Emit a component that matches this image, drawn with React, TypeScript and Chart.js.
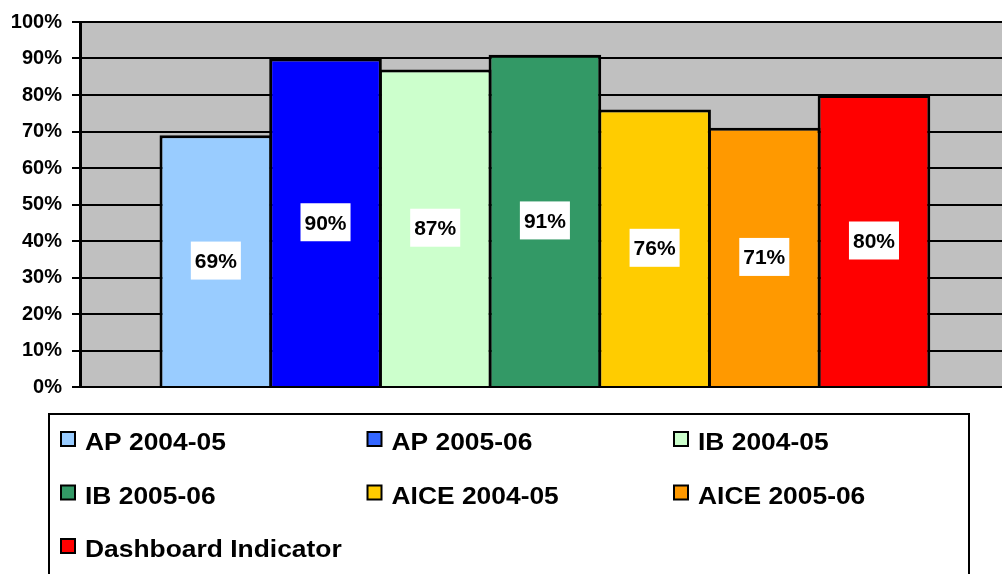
import React, { useEffect, useRef } from 'react';
import { Chart, registerables } from 'chart.js';

Chart.register(...registerables);

const categories = [''];
const seriesNames = [
  'AP 2004-05',
  'AP 2005-06',
  'IB 2004-05',
  'IB 2005-06',
  'AICE 2004-05',
  'AICE 2005-06',
  'Dashboard Indicator',
];
const seriesValues = [69, 90, 87, 91, 76, 71, 80];
const barColors = ['#99CCFF', '#0000FF', '#CCFFCC', '#339966', '#FFCC00', '#FF9900', '#FF0000'];
const legendColors = ['#99CCFF', '#3366FF', '#CCFFCC', '#339966', '#FFCC00', '#FF9900', '#FF0000'];
const yTickValues = [0, 10, 20, 30, 40, 50, 60, 70, 80, 90, 100];

const FONT = '"Liberation Sans", Arial, Helvetica, sans-serif';
const CANVAS_W = 1020;
const CANVAS_H = 600;

const plotBackground = {
  id: 'plotBackground',
  beforeDraw(chart: any) {
    const { ctx, chartArea } = chart;
    ctx.save();
    ctx.fillStyle = '#C0C0C0';
    ctx.fillRect(chartArea.left, chartArea.top, chartArea.right - chartArea.left, chartArea.bottom - chartArea.top);
    ctx.restore();
  },
};

const valueLabels = {
  id: 'valueLabels',
  afterDatasetsDraw(chart: any) {
    const { ctx } = chart;
    ctx.save();
    ctx.font = `bold 21px ${FONT}`;
    chart.data.datasets.forEach((ds: any, i: number) => {
      const meta = chart.getDatasetMeta(i);
      meta.data.forEach((el: any, j: number) => {
        const v = ds.data[j];
        const text = `${v}%`;
        const cx = el.x;
        const cy = (el.y + el.base) / 2;
        const w = ctx.measureText(text).width + 8;
        const h = 38;
        ctx.fillStyle = '#FFFFFF';
        ctx.fillRect(cx - w / 2, cy - h / 2, w, h);
        ctx.fillStyle = '#000000';
        ctx.textAlign = 'center';
        ctx.textBaseline = 'alphabetic';
        ctx.fillText(text, cx, cy + 7.5);
      });
    });
    ctx.restore();
  },
};

const boxLegend = {
  id: 'boxLegend',
  afterDraw(chart: any) {
    const { ctx } = chart;
    ctx.save();
    // legend frame
    ctx.strokeStyle = '#000000';
    ctx.lineWidth = 2;
    ctx.strokeRect(49, 414, 920, 260);
    ctx.font = `bold 24px ${FONT}`;
    ctx.textBaseline = 'alphabetic';
    ctx.textAlign = 'left';
    chart.data.datasets.forEach((ds: any, i: number) => {
      const col = i % 3;
      const row = Math.floor(i / 3);
      const x = 60 + col * 306.5;
      const baseline = 450 + row * 53.5;
      ctx.fillStyle = legendColors[i];
      ctx.fillRect(61, 0, 0, 0);
      ctx.fillRect(x + 1, baseline - 18, 14, 14);
      ctx.strokeStyle = '#000000';
      ctx.lineWidth = 2;
      ctx.strokeRect(x + 1, baseline - 18, 14, 14);
      ctx.save();
      ctx.translate(x + 25, baseline);
      ctx.scale(1.1, 1);
      ctx.fillStyle = '#000000';
      ctx.fillText(ds.label, 0, 0);
      ctx.restore();
    });
    ctx.restore();
  },
};

export default function App() {
  const canvasRef = useRef<HTMLCanvasElement | null>(null);

  useEffect(() => {
    const canvas = canvasRef.current;
    if (!canvas) return;
    const chart = new Chart(canvas, {
      type: 'bar',
      data: {
        labels: categories,
        datasets: seriesNames.map((name, i) => ({
          label: name,
          data: [seriesValues[i]],
          backgroundColor: barColors[i],
          borderColor: '#000000',
          borderWidth: 3,
          categoryPercentage: 0.8258,
          barPercentage: 1.027,
        })),
      },
      options: {
        responsive: false,
        animation: false,
        devicePixelRatio: 1,
        layout: { padding: { left: 0, top: 19, right: 10.2, bottom: 213 } },
        plugins: {
          legend: { display: false },
          tooltip: { enabled: false },
          title: { display: false },
        },
        scales: {
          x: {
            display: true,
            grid: { display: false, drawTicks: false },
            ticks: { display: false },
            border: { display: true, color: '#000000', width: 2, z: 1 },
          },
          y: {
            min: 0,
            max: 100,
            afterFit(scale: any) {
              scale.width = 80;
            },
            afterBuildTicks(scale: any) {
              scale.ticks = yTickValues.map((v) => ({ value: v }));
            },
            ticks: {
              color: '#000000',
              font: { family: FONT, size: 20, weight: 'bold' },
              padding: 10,
              callback: (v: any) => `${v}%`,
            },
            grid: {
              color: '#000000',
              lineWidth: 2,
              drawTicks: true,
              tickLength: 8,
              tickColor: '#000000',
            },
            border: { display: true, color: '#000000', width: 3 },
          },
        },
      },
      plugins: [plotBackground, valueLabels, boxLegend],
    });
    return () => chart.destroy();
  }, []);

  return (
    <div
      style={{
        position: 'fixed',
        left: 0,
        top: 0,
        width: 1002,
        height: 574,
        overflow: 'hidden',
        background: '#FFFFFF',
      }}
    >
      <canvas
        ref={canvasRef}
        width={CANVAS_W}
        height={CANVAS_H}
        style={{ display: 'block', width: CANVAS_W, height: CANVAS_H }}
      />
    </div>
  );
}
